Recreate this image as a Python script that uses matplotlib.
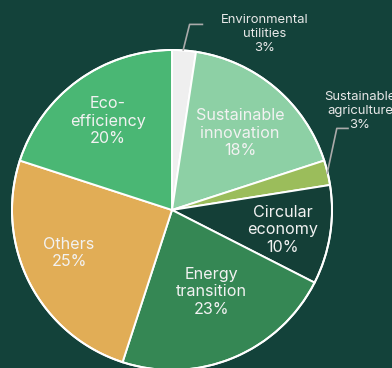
import matplotlib.pyplot as plt

# Data (clockwise from the top)
categories = ['Environmental\nutilities', 'Sustainable\ninnovation', 'Sustainable\nagriculture',
              'Circular\neconomy', 'Energy\ntransition', 'Others', 'Eco-\nefficiency']
shares = [2.4, 17.6, 2.5, 10.0, 22.5, 25.0, 20.0]
pct_labels = ['3%', '18%', '3%', '10%', '23%', '25%', '20%']

colors = ['#efefef', '#8dd0a5', '#9bbd5b', '#143f37', '#358754', '#e1ad56', '#4ab774']
bg = '#13423a'

plt.rcParams['font.family'] = ['Inter', 'DejaVu Sans']

fig = plt.figure(figsize=(3.92, 3.68), dpi=100, facecolor=bg)
ax = fig.add_axes([0, 0, 1, 1])
ax.set_facecolor(bg)

wedges, _ = ax.pie(shares, colors=colors, startangle=90, counterclock=False, radius=1,
                   wedgeprops=dict(edgecolor='white', linewidth=1.4))

# outline of the whole pie
ax.add_patch(plt.Circle((0, 0), 1, fill=False, edgecolor='white', linewidth=1.4))

# inner labels
inner = {1: (0.425, 0.48), 3: (0.69, -0.125), 4: (0.244, -0.51), 5: (-0.644, -0.27), 6: (-0.40, 0.556)}
for i, (x, y) in inner.items():
    ax.text(x, y, categories[i] + '\n' + pct_labels[i], ha='center', va='center',
            fontsize=11.6, color='#f2f2f2', linespacing=1.2)

# outer labels with leader lines
ax.plot([0.07, 0.11, 0.19], [1.0, 1.16, 1.16], color='#aaaaaa', lw=1.2)
ax.text(0.58, 1.10, categories[0] + '\n' + pct_labels[0], ha='center', va='center',
        fontsize=9.4, color='#e8e8e8', linespacing=1.2)

ax.plot([0.97, 1.03, 1.10], [0.23, 0.51, 0.51], color='#aaaaaa', lw=1.2)
ax.text(1.175, 0.62, categories[2] + '\n' + pct_labels[2], ha='center', va='center',
        fontsize=9.4, color='#e8e8e8', linespacing=1.2)

ax.set_xlim(-172 / 160, 220 / 160)
ax.set_ylim(-158 / 160, 210 / 160)
ax.set_aspect('auto')
ax.axis('off')

fig.savefig('out.png', dpi=100, facecolor=bg)
